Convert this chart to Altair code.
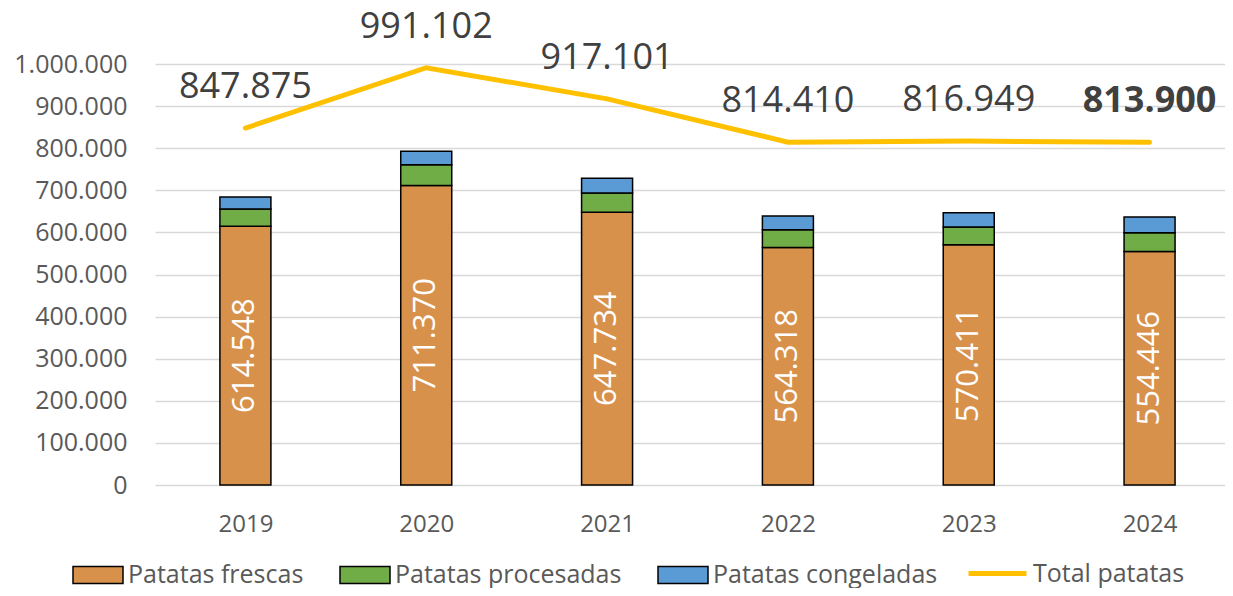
import altair as alt
import pandas as pd

FONT = "Open Sans"

years = [2019, 2020, 2021, 2022, 2023, 2024]
frescas = [614548, 711370, 647734, 564318, 570411, 554446]
procesadas = [41100, 49400, 45900, 42100, 42400, 44900]
congeladas = [28400, 31800, 34900, 32600, 34000, 37300]
total = [847875, 991102, 917101, 814410, 816949, 813900]
series = ["Patatas frescas", "Patatas procesadas", "Patatas congeladas"]
colors = ["#D8914B", "#70AD47", "#5B9BD5"]
line_name = "Total patatas"
line_color = "#FFC000"
y_ticks = list(range(0, 1000001, 100000))

rows = []
for i, yr in enumerate(years):
    for k, (s, vals) in enumerate(zip(series, [frescas, procesadas, congeladas])):
        rows.append({"year": yr, "serie": s, "value": vals[i], "ord": k})
bars_df = pd.DataFrame(rows)
tot_df = pd.DataFrame({
    "year": years,
    "total": total,
    "frescas": frescas,
    "serie": [line_name] * len(years),
    "bold": [yr == years[-1] for yr in years],
})

W, H = 1070, 421
# each year occupies one category slot of ~181 px; the plot shows W/181 slots
x_domain = [years[0] - 0.5, years[0] - 0.5 + W / 180.83]

x_enc = alt.X(
    "year:Q", title=None,
    scale=alt.Scale(domain=x_domain, nice=False, zero=False, padding=0),
    axis=alt.Axis(values=years, format="d", labelAngle=0, domain=False, ticks=False,
                  grid=False, labelFontSize=24, labelColor="#595959",
                  labelPadding=27, labelFont=FONT),
)

y_axis = alt.Axis(values=y_ticks, format=",d", domain=False, ticks=False,
                  labelFontSize=25, labelColor="#595959", labelPadding=28,
                  labelFont=FONT, gridColor="#D9D9D9", gridWidth=1.5)


def y_enc(field, stack=None):
    return alt.Y(field, title=None, stack=stack,
                 scale=alt.Scale(domain=[0, 1000000], nice=False, padding=0), axis=y_axis)


bars = alt.Chart(bars_df).mark_bar(size=51, stroke="black", strokeWidth=1.5).encode(
    x=x_enc,
    y=y_enc("value:Q", stack="zero"),
    fill=alt.Fill("serie:N", sort=series,
                  scale=alt.Scale(domain=series, range=colors),
                  legend=alt.Legend(orient="none", legendX=-83, legendY=485,
                                    direction="horizontal", title=None,
                                    symbolType="M-1,-0.34H1V0.34H-1Z", symbolSize=2500,
                                    symbolStrokeColor="black", symbolStrokeWidth=1.5,
                                    symbolOpacity=1, labelFontSize=25, labelLimit=500,
                                    labelColor="#595959", labelFont=FONT,
                                    columnPadding=33, labelOffset=4, padding=0)),
    order=alt.Order("ord:Q", sort="ascending"),
)

bar_labels = alt.Chart(tot_df).transform_calculate(
    mid="datum.frescas / 2"
).mark_text(angle=270, color="white", fontSize=31, baseline="middle",
            align="center", font=FONT).encode(
    x=x_enc,
    y=y_enc("mid:Q"),
    text=alt.Text("frescas:Q", format=",d"),
)

line = alt.Chart(tot_df).mark_line(strokeWidth=5, strokeCap="round").encode(
    x=x_enc,
    y=y_enc("total:Q"),
    stroke=alt.Stroke("serie:N",
                      scale=alt.Scale(domain=[line_name], range=[line_color]),
                      legend=alt.Legend(orient="none", legendX=811, legendY=478,
                                        title=None, symbolType="stroke",
                                        symbolSize=3364, symbolStrokeWidth=5,
                                        labelFontSize=25, labelLimit=500,
                                        labelColor="#595959",
                                        labelFont=FONT, labelOffset=4, padding=0)),
)

line_labels = alt.Chart(tot_df).transform_filter("!datum.bold").mark_text(
    dy=-30, fontSize=36, color="#404040", baseline="alphabetic", align="center", font=FONT
).encode(
    x=x_enc,
    y=y_enc("total:Q"),
    text=alt.Text("total:Q", format=",d"),
)

line_labels_bold = alt.Chart(tot_df).transform_filter("datum.bold").mark_text(
    dy=-30, fontSize=36, color="#404040", baseline="alphabetic", align="center",
    font=FONT, fontWeight="bold"
).encode(
    x=x_enc,
    y=y_enc("total:Q"),
    text=alt.Text("total:Q", format=",d"),
)

chart = alt.layer(bars, bar_labels, line, line_labels, line_labels_bold).resolve_scale(
    fill="independent", stroke="independent"
).properties(
    width=W, height=H,
    padding={"left": 147, "top": 56, "right": 0, "bottom": 103},
    autosize=alt.AutoSizeParams(type="none"),
).configure(
    locale={"number": {"decimal": ",", "thousands": ".", "grouping": [3],
                       "currency": ["", " €"]}}
).configure_view(stroke=None)

chart.save("out.html", embed_options={"renderer": "svg", "actions": False})
